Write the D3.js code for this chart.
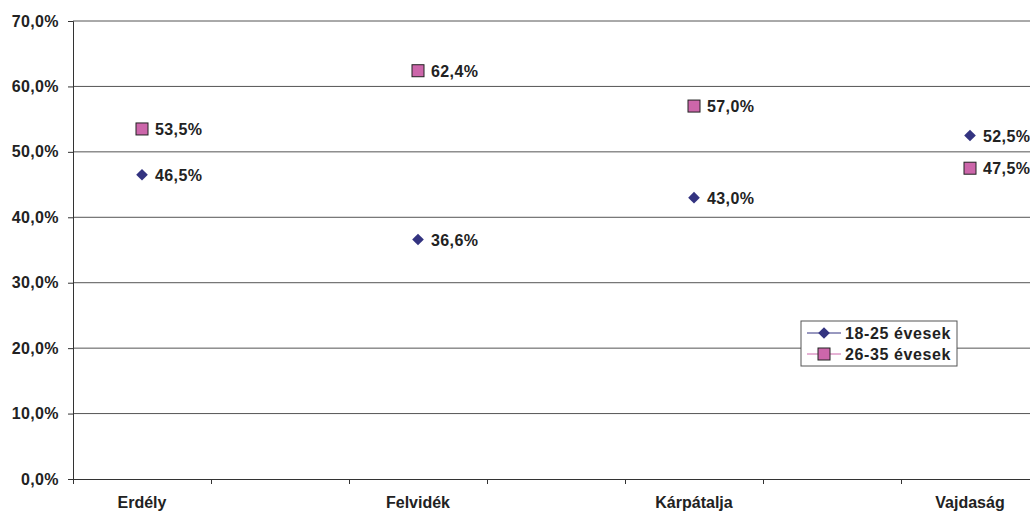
<!DOCTYPE html>
<meta charset="utf-8">
<title>Korcsoportok régiónként</title>
<style>
body{ margin:0; background:white; }
svg text{ font-family:"Liberation Sans", Arial, sans-serif; font-weight:bold; fill:#222; }
</style>
<body>
<script src="https://d3js.org/d3.v7.min.js"></script>
<script>

var regions = ['Erdély', 'Felvidék', 'Kárpátalja', 'Vajdaság'];
var young = [46.5, 36.6, 43.0, 52.5];   // 18-25 évesek
var older = [53.5, 62.4, 57.0, 47.5];   // 26-35 évesek
var seriesNames = ['18-25 évesek', '26-35 évesek'];
var yTicks = [0, 10, 20, 30, 40, 50, 60, 70];

var width = 1030, height = 511;
var plotLeft = 73, plotTop = 21, plotBottom = 479;

// 8 slots, chart runs past the right edge of the picture
var x = d3.scaleLinear().domain([0, 8]).range([plotLeft, plotLeft + 8 * 138]);
var y = d3.scaleLinear().domain([0, 70]).range([plotBottom, plotTop]);
var fmt = function(v){ return v.toFixed(1).replace('.', ',') + '%'; };
var cx = function(i){ return x(2 * i + 0.5); };

var svg = d3.select('body').append('svg')
	.attr('width', width)
	.attr('height', height);

// gridlines
svg.append('g')
	.selectAll('line')
	.data(yTicks.slice(1))
	.enter()
	.append('line')
	.attr('x1', plotLeft).attr('x2', width)
	.attr('y1', function(d){ return y(d); })
	.attr('y2', function(d){ return y(d); })
	.attr('stroke', '#555')
	.attr('stroke-width', 1);

// y axis
var yAxis = svg.append('g')
	.attr('transform', 'translate(' + plotLeft + ',0)')
	.call(d3.axisLeft(y).tickValues(yTicks).tickSize(5).tickPadding(9).tickFormat(fmt));
yAxis.select('.domain').attr('stroke', '#333');
yAxis.selectAll('.tick line').attr('stroke', '#333');
yAxis.selectAll('.tick text').style('font-size', '16px').style('letter-spacing', '0.4px');

// x axis
var xAxis = svg.append('g')
	.attr('transform', 'translate(0,' + plotBottom + ')')
	.call(d3.axisBottom(x).tickValues(d3.range(0, 9)).tickSize(5).tickFormat(''));
xAxis.select('.domain').attr('stroke', '#333');
xAxis.selectAll('.tick line').attr('stroke', '#333');

svg.append('g')
	.selectAll('text')
	.data(regions)
	.enter()
	.append('text')
	.attr('x', function(d, i){ return cx(i); })
	.attr('y', 508)
	.attr('text-anchor', 'middle')
	.style('font-size', '16px')
	.text(function(d){ return d; });

// diamond = rotated square
var diamond = d3.symbol().type(d3.symbolSquare).size(68);

// 18-25 series
var g1 = svg.append('g');
g1.selectAll('path')
	.data(young)
	.enter()
	.append('path')
	.attr('d', diamond)
	.attr('transform', function(d, i){ return 'translate(' + cx(i) + ',' + y(d) + ') rotate(45)'; })
	.attr('fill', '#333380');
g1.selectAll('text')
	.data(young)
	.enter()
	.append('text')
	.attr('x', function(d, i){ return cx(i) + 13; })
	.attr('y', function(d){ return y(d) + 6; })
	.style('font-size', '16px')
	.style('letter-spacing', '0.4px')
	.text(fmt);

// 26-35 series
var g2 = svg.append('g');
g2.selectAll('rect')
	.data(older)
	.enter()
	.append('rect')
	.attr('x', function(d, i){ return cx(i) - 6; })
	.attr('y', function(d){ return y(d) - 6; })
	.attr('width', 12).attr('height', 12)
	.attr('fill', '#cc66aa')
	.attr('stroke', '#222')
	.attr('stroke-width', 1);
g2.selectAll('text')
	.data(older)
	.enter()
	.append('text')
	.attr('x', function(d, i){ return cx(i) + 13; })
	.attr('y', function(d){ return y(d) + 6; })
	.style('font-size', '16px')
	.style('letter-spacing', '0.4px')
	.text(fmt);

// legend
var legend = svg.append('g').attr('transform', 'translate(801,321)');
legend.append('rect')
	.attr('width', 156).attr('height', 45)
	.attr('fill', 'white')
	.attr('stroke', '#555');

var rows = legend.selectAll('g.row')
	.data(seriesNames)
	.enter()
	.append('g')
	.attr('class', 'row')
	.attr('transform', function(d, i){ return 'translate(0,' + (12 + i * 21) + ')'; });
rows.append('line')
	.attr('x1', 6).attr('x2', 40)
	.attr('stroke', function(d, i){ return i ? '#cc66aa' : '#333380'; });
rows.each(function(d, i){
	var r = d3.select(this);
	if (i === 0) {
		r.append('path').attr('d', diamond).attr('transform', 'translate(23,0) rotate(45)').attr('fill', '#333380');
	} else {
		r.append('rect').attr('x', 17).attr('y', -6).attr('width', 12).attr('height', 12)
			.attr('fill', '#cc66aa').attr('stroke', '#222');
	}
});
rows.append('text')
	.attr('x', 44)
	.attr('y', 6)
	.style('font-size', '16px')
	.style('letter-spacing', '0.6px')
	.text(function(d){ return d; });

</script>
</body>
